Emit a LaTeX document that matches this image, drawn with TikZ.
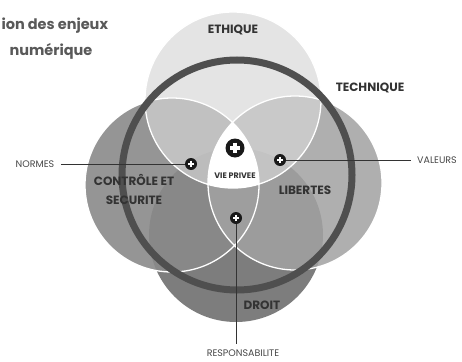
\documentclass[tikz,border=0pt]{standalone}
\usepackage{fontspec}
\setmainfont{Poppins}
\usepackage{tikz}
\definecolor{ethgray}{HTML}{D7D7D7}
\definecolor{ctlgray}{HTML}{8A8A8A}
\definecolor{libgray}{HTML}{A2A2A2}
\definecolor{drtgray}{HTML}{7D7D7D}
\definecolor{ringgray}{HTML}{4F4F4F}
\definecolor{textgray}{HTML}{333333}
\tikzset{
% The plus markers: dark disk with a white cross
plus dot/.style={circle,fill=black!90,inner sep=0,minimum size=#1,
  path picture={\draw[white,line width=0.2*#1]
    ([yshift=0.28*#1]path picture bounding box.center)--([yshift=-0.28*#1]path picture bounding box.center)
    ([xshift=0.28*#1]path picture bounding box.center)--([xshift=-0.28*#1]path picture bounding box.center);}},
% Two label styles: inside the circles and at the leader lines
big label/.style={font=\bfseries\fontsize{12}{19}\selectfont,text=textgray,align=center},
small label/.style={font=\fontsize{9.5}{11}\selectfont,text=textgray!90}
}

\begin{document}
\begin{tikzpicture}[x=1pt,y=-1pt]
\useasboundingbox (0,0) rectangle (462,361);
\fill[white] (0,0) rectangle (462,361);
% Centres of the circles
\coordinate (eth) at (233,100);
\coordinate (ctl) at (172,185);
\coordinate (lib) at (295,183);
\coordinate (drt) at (236,235);
\coordinate (tec) at (237,175);
% The circles
\fill[drtgray] (drt) circle (87pt);
\fill[ctlgray,opacity=0.9] (ctl) circle (87pt);
\fill[libgray,opacity=0.85] (lib) circle (87pt);
\fill[ethgray,opacity=0.67] (eth) circle (88pt);
\begin{scope}
\clip (eth) circle (88pt);
\clip (ctl) circle (87pt);
\fill[white] (lib) circle (87pt);
\end{scope}
\draw[white,line width=1.3pt] (ctl) circle (87pt) (lib) circle (87pt) (eth) circle (88pt);
\draw[ringgray,line width=7pt] (tec) circle (115pt);
% Plus markers
\node(vie)[plus dot=19pt] at (235,148){};
\node(pn)[plus dot=12pt] at (191,164){};
\node(pv)[plus dot=12pt] at (280,160){};
\node(pr)[plus dot=12pt] at (236,218){};
% Labels
\node[big label] at (233,30){ETHIQUE};
\node[big label] at (370,88){TECHNIQUE};
\node[big label] at (134,189){CONTRÔLE ET\\SECURITE};
\node[big label] at (305,190){LIBERTES};
\node[big label] at (262,305){DROIT};
\node[font=\bfseries\fontsize{8}{9}\selectfont,text=textgray] at (235,176){VIE PRIVEE};
\node[font=\bfseries\fontsize{14.5}{16}\selectfont,text=black!65,anchor=west] at (-2,26){ion des enjeux};
\node[font=\bfseries\fontsize{14.5}{16}\selectfont,text=black!65,anchor=west] at (6,51){numérique};
% Leader lines
\node(normes)[small label] at (35,164){NORMES};
\node(valeurs)[small label] at (437,160){VALEURS};
\node(resp)[small label] at (243,353){RESPONSABILITE};
\draw[black!80,line width=0.8pt,shorten <=3pt] (normes) -- (pn);
\draw[black!80,line width=0.8pt,shorten >=3pt] (pv) -- (valeurs);
\draw[black!80,line width=0.8pt,shorten >=2pt] (pr) -- (pr |- resp.north);
\end{tikzpicture}
\end{document}
